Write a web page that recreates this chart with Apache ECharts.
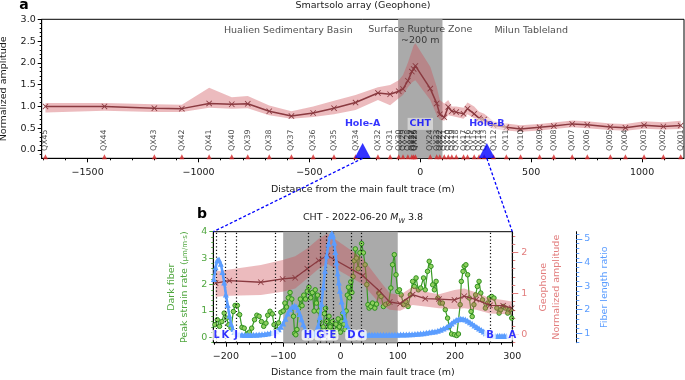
<!DOCTYPE html>
<html><head><meta charset="utf-8">
<script src="https://cdn.jsdelivr.net/npm/echarts@6/dist/echarts.min.js"></script>
<style>html,body{margin:0;padding:0;background:#fff}#c{width:685px;height:380px}</style>
</head><body><div id="c"></div>
<script>
// ---------------- Panel a : Smartsolo array (Geophone) ----------------
const stationNames = ['QX45','QX44','QX43','QX42','QX41','QX40','QX39','QX38','QX37','QX36','QX35','QX34','QX32','QX31',
  'QX30','QX29','QX28','QX27','QX26','QX25','QX24','QX23','QX22','QX21','QX20','QX19','QX18','QX17','QX16','QX15','QX14','QX13',
  'QX12','QX11','QX10','QX09','QX08','QX07','QX06','QX05','QX04','QX03','QX02','QX01'];
const stationDist = [-1690,-1424,-1199,-1075,-952,-850,-778,-681,-581,-483,-389,-292,-191,-136,
  -97,-78,-56,-38,-30,-22,45,74,88,108,126,142,162,195,213,243,265,288,
  330,388,452,538,602,685,753,857,925,1009,1096,1174];
const ampMean = [1.00,1.00,0.96,0.95,1.07,1.05,1.06,0.89,0.78,0.85,0.96,1.09,1.31,1.28,
  1.35,1.40,1.59,1.80,1.86,1.93,1.41,1.07,0.82,0.75,0.99,0.89,0.87,0.83,0.95,0.83,0.73,0.70,
  0.57,0.52,0.48,0.52,0.55,0.60,0.58,0.53,0.51,0.57,0.54,0.56];
const ampLow = [0.86,0.90,0.87,0.87,0.97,0.95,0.96,0.80,0.72,0.76,0.82,0.92,1.15,1.03,
  1.19,1.26,1.44,1.55,1.58,1.60,1.15,0.80,0.70,0.67,0.80,0.78,0.76,0.72,0.82,0.73,0.62,0.60,
  0.49,0.45,0.42,0.45,0.48,0.52,0.50,0.46,0.44,0.49,0.47,0.48];
const ampHigh = [1.08,1.08,1.05,1.04,1.43,1.21,1.24,1.02,0.89,1.00,1.13,1.26,1.44,1.49,
  1.60,1.72,2.00,2.28,2.40,2.45,1.91,1.45,1.15,1.07,1.15,1.00,1.00,0.97,1.09,1.00,0.88,0.83,
  0.66,0.61,0.57,0.60,0.63,0.68,0.66,0.61,0.60,0.66,0.64,0.67];
const holeNames = ['Hole-A','CHT','Hole-B'];
const holeDist = [-260, 0, 300];
const zoneNames = ['Hualien Sedimentary Basin','Surface Rupture Zone\n~200 m','Milun Tableland'];
const zoneDist = [-595, 0, 500];
const zoneAmp = [2.75, 2.63, 2.75];
const aXTicks = [-1500,-1000,-500,0,500,1000];
const aYTicks = [0,0.5,1,1.5,2,2.5,3];

// ---------------- Panel b : CHT - 2022-06-20 Mw 3.8 ----------------
const geoDist = [-218,-194,-139,-101,-79,-58,-38,-23,39,68,86,104,126,148,172,199,216,237,261,284,299];
const geoMean = [1.25,1.31,1.27,1.35,1.38,1.60,1.80,1.92,1.43,1.06,0.79,0.75,0.97,0.87,0.86,0.84,0.93,0.85,0.71,0.70,0.64];
const geoLow  = [0.92,0.94,0.96,1.04,1.12,1.36,1.60,1.72,1.22,0.76,0.60,0.58,0.72,0.68,0.64,0.62,0.64,0.60,0.51,0.50,0.48];
const geoHigh = [1.53,1.58,1.69,1.81,1.90,2.09,2.33,2.45,1.85,1.32,1.00,0.96,1.16,1.04,0.98,1.08,1.12,1.02,0.88,0.84,0.80];

const fiberDist = [-219,-215,-211,-207,-203,-199,-195,-191,-187,-184,-180,-176,-172,-168,-163,-159,-155,-150,-146,-142,-138,-134,-130,-127,-123,-119,-116,-112,-108,-104,
  -100,-97,-94,-91,-88,-85,-82,-80,-78,-76,-73,-70,-67,-64,-61,-58,-55,-52,-49,-46,
  -44,-42,-40,-38,-36,-34,-32,-30,-28,-26,-24,-22,-20,-18,-16,-14,-12,-10,-8,-6,-4,-2,0,2,4,6,8,10,12,14,16,18,20,22,24,26,28,31,34,37,40,43,46,48,
  50,53,56,60,63,67,71,75,79,84,88,91,94,97,100,103,106,110,114,118,122,126,129,132,136,140,145,148,152,155,158,161,164,167,170,174,178,183,187,190,194,199,203,206,
  209,211,214,216,219,222,225,228,230,233,236,239,242,245,248,253,257,260,264,268,273,277,280,284,288,292,296,299];
const fiberRate = [0.48,0.67,0.42,0.60,0.92,0.73,0.48,0.35,0.98,1.21,1.21,0.86,0.38,0.35,0.13,0.20,0.35,0.67,0.84,0.80,0.60,0.42,0.54,0.84,0.99,0.89,0.48,0.30,0.55,0.95,
  1.00,1.30,1.15,1.50,1.70,1.45,0.80,0.15,0.10,0.30,1.10,1.45,1.20,1.60,1.45,1.75,1.90,1.50,1.70,1.00,
  1.80,1.30,1.60,1.00,0.60,0.20,0.05,0.40,0.90,1.10,0.60,0.30,0.80,0.40,0.15,0.60,0.20,0.05,0.50,0.30,0.70,0.40,0.20,0.60,0.90,0.50,0.30,1.00,1.60,1.90,1.50,2.10,1.70,2.30,2.90,3.35,3.00,2.60,3.20,3.55,3.20,2.75,2.00,1.24,
  1.11,1.17,1.30,1.11,1.26,1.68,1.55,1.17,1.25,1.30,1.87,2.75,3.13,2.37,1.74,1.80,1.61,1.24,1.36,1.17,1.61,2.12,1.93,2.25,1.80,1.87,2.25,1.80,2.50,2.88,2.69,1.99,1.80,2.12,1.49,1.30,1.30,1.05,0.73,0.41,0.13,0.10,0.07,0.13,
  1.24,2.12,2.50,2.69,2.75,2.37,1.49,0.98,0.79,1.24,1.61,1.93,2.12,1.68,1.42,1.11,1.30,1.49,1.55,1.49,1.11,0.92,1.05,1.17,1.11,0.92,1.05,0.73];

const ratioDist = [-221,-218,-215,-212,-209,-206,-203,-200,-197,-194,-191,-188,-185,-181,-177,-172,-167,-162,-157,-152,-147,-142,-137,-132,-127,-122,-117,-112,-108,-104,
  -100,-96,-92,-88,-84,-80,-77,-74,-71,-68,-65,-62,-59,-56,-52,-48,-45,-42,-39,-36,-33,-30,-27,-24,-21,-18,-15,-13,-11,-9,-7,-5,-3,-1,2,5,8,11,14,17,21,25,30,
  35,40,45,50,55,60,65,70,75,80,85,90,95,100,105,110,115,120,125,130,135,140,145,150,155,160,165,170,175,180,185,190,194,198,202,206,210,214,218,222,226,230,234,238,242,246,250,254,258,262,266,270,274,278,282,286,290];
const ratioVal = [3.30,3.80,4.10,4.13,3.95,3.60,3.15,2.65,2.20,1.75,1.40,1.18,1.05,0.98,0.95,0.94,0.93,0.93,0.93,0.94,0.94,0.95,0.96,0.97,0.99,1.01,1.04,1.09,1.17,1.28,
  1.42,1.62,1.84,2.02,2.13,2.17,2.13,2.00,1.82,1.60,1.38,1.18,1.02,0.95,0.94,0.96,1.00,1.10,1.32,1.70,2.25,2.95,3.65,4.30,4.80,5.12,5.24,5.15,4.85,4.45,4.00,3.55,3.15,2.80,2.35,1.95,1.60,1.35,1.18,1.08,1.01,0.97,0.95,
  0.95,0.95,0.94,0.94,0.94,0.94,0.94,0.94,0.94,0.94,0.94,0.94,0.94,0.94,0.95,0.95,0.95,0.96,0.96,0.97,0.98,0.99,1.00,1.02,1.04,1.06,1.08,1.11,1.15,1.20,1.26,1.34,1.42,1.50,1.56,1.60,1.62,1.61,1.58,1.53,1.47,1.40,1.33,1.27,1.20,1.14,1.07,1.00,0.95,0.92,0.90,0.89,0.88,0.89,0.88,0.89,0.88];

const markerNames = ['L','K','J','I','H','G','F','E','D','C','B','A'];
const markerDist = [-216,-201,-182,-114,-57,-35,-25,-13,19,36,261,300];
const bXTicks = [-200,-100,0,100,200,300];
const bStrainTicks = [0,1,2,3,4];
const bGeoTicks = [0,1,2];
const bRatioTicks = [1,2,3,4,5];

// ---------------- helpers ----------------
const FONT = 'DejaVu Sans';
const TXT = '#1a1a1a';
const GREEN = '#4fa63e', RED = '#e27d7d', BLUE = '#5b9dff', MAROON = '#8a3a40';
const XSYM = 'path://M1,0L5,4L9,0L10,1L6,5L10,9L9,10L5,6L1,10L0,9L4,5L0,1Z';
function range(a, b, s) { const r = []; for (let v = a; v <= b + 1e-9; v += s) r.push(Math.round(v * 1000) / 1000); return r; }
const signed = d => v => (v < 0 ? '\u2212' : '') + Math.abs(v).toFixed(d);

function xPair(grid, min, max, major, minor, name, gap) {
  return [
    { type: 'value', gridIndex: grid, min, max, position: 'bottom',
      axisLine: { show: true, onZero: false, lineStyle: { color: '#000', width: 1 } },
      axisTick: { show: true, customValues: major, length: 4, lineStyle: { color: '#000', width: 1 } },
      axisLabel: { show: true, customValues: major, formatter: signed(0), fontSize: 9.5, fontFamily: FONT, color: TXT, margin: 9 },
      splitLine: { show: false },
      name, nameLocation: 'middle', nameGap: gap, nameTextStyle: { fontSize: 9.5, fontFamily: FONT, color: TXT } },
    { type: 'value', gridIndex: grid, min, max, position: 'bottom',
      axisLine: { show: false, onZero: false },
      axisTick: { show: true, customValues: minor, length: 2, lineStyle: { color: '#000', width: 1 } },
      axisLabel: { show: false }, splitLine: { show: false } }
  ];
}
function yPair(grid, pos, offset, min, max, major, minor, dec, color, majLen, minLen, margin, name, gap, rich) {
  return [
    { type: 'value', gridIndex: grid, position: pos, offset, min, max,
      axisLine: { show: true, onZero: false, lineStyle: { color: '#000', width: 1 } },
      axisTick: { show: true, customValues: major, length: majLen, lineStyle: { color: color, width: 1 } },
      axisLabel: { show: true, customValues: major, formatter: signed(dec), fontSize: 9.5, fontFamily: FONT, color: color === '#000' ? TXT : color, margin },
      splitLine: { show: false },
      name, nameLocation: 'middle', nameGap: gap,
      nameTextStyle: { fontSize: 9.5, fontFamily: FONT, color: color === '#000' ? TXT : color, lineHeight: 13, rich: rich || {} } },
    { type: 'value', gridIndex: grid, position: pos, offset, min, max,
      axisLine: { show: false, onZero: false },
      axisTick: { show: true, customValues: minor, length: minLen, lineStyle: { color: color, width: 1 } },
      axisLabel: { show: false }, splitLine: { show: false } }
  ];
}
function band(xs, lo, hi, xi, yi, color, z) {
  return { type: 'custom', xAxisIndex: xi, yAxisIndex: yi, z, silent: true, clip: true,
    data: xs.map((x, i) => [x, lo[i], hi[i]]), encode: { x: 0, y: [1, 2] },
    renderItem: function (params, api) {
      if (params.dataIndex !== 0) return null;
      const pts = [];
      for (let i = 0; i < xs.length; i++) pts.push(api.coord([xs[i], hi[i]]));
      for (let i = xs.length - 1; i >= 0; i--) pts.push(api.coord([xs[i], lo[i]]));
      return { type: 'polygon', shape: { points: pts }, style: { fill: color } };
    } };
}

const xAxes = [].concat(
  xPair(0, -1707, 1189, aXTicks, range(-1700, 1100, 100), 'Distance from the main fault trace (m)', 26),
  xPair(1, -222, 300, bXTicks, range(-220, 300, 20), 'Distance from the main fault trace (m)', 25)
);
const yAxes = [].concat(
  yPair(0, 'left', 0, -0.19, 3, aYTicks, range(-0.1, 3, 0.1), 1, '#000', 4, 2, 6, 'Normalized amplitude', 28),
  yPair(1, 'left', 0, -0.2, 4, bStrainTicks, range(-0.2, 4, 0.2), 0, GREEN, 4, 2, 6, 'Dark fiber\nPeak strain rate ({f|μm/m·s})', 22, { f: { fontSize: 7, color: GREEN, fontFamily: FONT } }),
  yPair(1, 'right', 0, -0.2, 2.5, bGeoTicks, range(-0.2, 2.4, 0.2), 0, RED, 6, 3, 9, 'Geophone\nNormalized amplitude', 25),
  yPair(1, 'right', 64, 0.6, 5.31, bRatioTicks, range(0.6, 5.2, 0.2), 0, BLUE, 6, 3, 8, 'Fiber length ratio', 22)
);

const lbl = (extra) => Object.assign({ show: true, fontFamily: FONT, fontSize: 9.5, color: TXT, position: 'inside' }, extra);

// letter labels: "F" is drawn first so that its neighbours' boxes overlap it
const markerOrder = markerNames.map((n, i) => i).sort((a, b) => (markerNames[a] === 'F' ? -1 : 0) - (markerNames[b] === 'F' ? -1 : 0));

const series = [
  // ---- panel a ----
  { type: 'line', xAxisIndex: 0, yAxisIndex: 0, z: 1, data: [[-100, -1]], showSymbol: false, lineStyle: { width: 0 }, silent: true,
    markArea: { silent: true, itemStyle: { color: '#aaaaaa' }, data: [[{ xAxis: -100 }, { xAxis: 100 }]] } },
  band(stationDist, ampLow, ampHigh, 0, 0, 'rgba(205,75,85,0.38)', 2),
  { type: 'line', xAxisIndex: 0, yAxisIndex: 0, z: 3, data: stationDist.map((x, i) => [x, ampMean[i]]),
    symbol: XSYM, symbolSize: 6, itemStyle: { color: MAROON }, lineStyle: { color: MAROON, width: 1.5 } },
  { type: 'scatter', xAxisIndex: 0, yAxisIndex: 0, z: 4, data: stationDist.map(x => [x, -0.155]),
    symbol: 'triangle', symbolSize: 5, itemStyle: { color: '#d62728' } },
  { type: 'scatter', xAxisIndex: 0, yAxisIndex: 0, z: 5, symbolSize: 0,
    data: stationDist.map((x, i) => ({ name: stationNames[i], value: [x, -0.02] })),
    label: lbl({ formatter: '{b}', rotate: 90, align: 'left', verticalAlign: 'middle', fontSize: 7.8 }) },
  { type: 'scatter', xAxisIndex: 0, yAxisIndex: 0, z: 6, symbol: 'triangle', symbolSize: [16, 15], itemStyle: { color: '#0000ff' },
    data: holeDist.filter((d, i) => holeNames[i] !== 'CHT').map(x => [x, -0.01]) },
  { type: 'scatter', xAxisIndex: 0, yAxisIndex: 0, z: 7, symbolSize: 0,
    data: holeDist.map((x, i) => ({ name: holeNames[i], value: [x, 0.6] })),
    label: lbl({ formatter: '{b}', color: '#0000ff', fontWeight: 'bold', backgroundColor: 'rgba(255,255,255,0.6)', padding: [1, 2] }) },
  { type: 'scatter', xAxisIndex: 0, yAxisIndex: 0, z: 7, symbolSize: 0,
    data: zoneDist.map((x, i) => ({ name: zoneNames[i], value: [x, zoneAmp[i]] })),
    label: lbl({ formatter: '{b}', align: 'center', verticalAlign: 'middle', lineHeight: 11 }) },

  // ---- panel b ----
  { type: 'line', xAxisIndex: 2, yAxisIndex: 2, z: 1, data: [[-100, -1]], showSymbol: false, lineStyle: { width: 0 }, silent: true,
    markArea: { silent: true, itemStyle: { color: '#aaaaaa' }, data: [[{ xAxis: -100 }, { xAxis: 100 }]] } },
  { type: 'line', xAxisIndex: 2, yAxisIndex: 2, z: 2, data: fiberDist.map((x, i) => [x, fiberRate[i]]),
    symbol: 'circle', symbolSize: 4.5, itemStyle: { color: '#8fd15f', borderColor: '#2f8f1f', borderWidth: 1 },
    lineStyle: { color: '#3a9a26', width: 1.2 } },
  band(geoDist, geoLow, geoHigh, 2, 4, 'rgba(205,75,85,0.38)', 3),
  { type: 'line', xAxisIndex: 2, yAxisIndex: 4, z: 4, data: geoDist.map((x, i) => [x, geoMean[i]]),
    symbol: XSYM, symbolSize: 6, itemStyle: { color: MAROON }, lineStyle: { color: MAROON, width: 1.3 } },
  { type: 'line', xAxisIndex: 2, yAxisIndex: 6, z: 5, data: ratioDist.map((x, i) => [x, ratioVal[i]]),
    symbol: 'triangle', symbolSize: 6, itemStyle: { color: BLUE }, lineStyle: { color: BLUE, width: 2.6 } },
  { type: 'line', xAxisIndex: 2, yAxisIndex: 2, z: 6, data: [[-100, -1]], showSymbol: false, lineStyle: { width: 0 }, silent: true,
    markLine: { silent: true, symbol: ['none', 'none'], label: { show: false },
      lineStyle: { type: [1.2, 2.2], color: '#111', width: 1.2 }, data: markerDist.map(x => ({ xAxis: x })) } },
  { type: 'scatter', xAxisIndex: 2, yAxisIndex: 2, z: 7, symbolSize: 0,
    data: markerOrder.map(i => ({ name: markerNames[i], value: [markerDist[i], 0.09] })),
    label: lbl({ formatter: '{b}', color: '#0000ff', fontWeight: 'bold', fontSize: 10, backgroundColor: '#ffffff', borderRadius: 3, padding: [1, 2, 0, 2] }) }
];

const option = {
  animation: false,
  textStyle: { fontFamily: FONT },
  grid: [
    { left: 41.7, top: 19.3, width: 642.3, height: 139, show: true, borderColor: '#000', borderWidth: 1, backgroundColor: 'transparent', outerBoundsMode: 'none', containLabel: false },
    { left: 213.3, top: 231.7, width: 299, height: 111, show: true, borderColor: '#000', borderWidth: 1, backgroundColor: 'transparent', outerBoundsMode: 'none', containLabel: false }
  ],
  xAxis: xAxes,
  yAxis: yAxes,
  series
};

const chart = echarts.init(document.getElementById('c'), null, { renderer: 'canvas' });
chart.setOption(option);

const px = (xi, x) => chart.convertToPixel({ xAxisIndex: xi }, x);
const py = (yi, y) => chart.convertToPixel({ yAxisIndex: yi }, y);
const aMinY = py(0, -0.19);
const link = (x1, y1, x2, y2) => ({ type: 'line', z: 100, silent: true,
  shape: { x1, y1, x2, y2 }, style: { stroke: '#0000ff', lineWidth: 1.3, lineDash: [3, 2] } });
chart.setOption({ graphic: [
  { type: 'text', x: 363, y: 6, style: { text: 'Smartsolo array (Geophone)', fill: TXT, font: '9.5px "DejaVu Sans"', align: 'center', verticalAlign: 'middle', textAlign: 'center', textVerticalAlign: 'middle' } },
  { type: 'text', x: 24, y: 5, style: { text: 'a', fill: '#000', font: 'bold 14px "DejaVu Sans"', align: 'center', verticalAlign: 'middle', textAlign: 'center', textVerticalAlign: 'middle' } },
  { type: 'text', x: 202, y: 214, style: { text: 'b', fill: '#000', font: 'bold 14px "DejaVu Sans"', align: 'center', verticalAlign: 'middle', textAlign: 'center', textVerticalAlign: 'middle' } },
  { type: 'text', x: 363, y: 218, style: { text: '{t|CHT - 2022-06-20 }{m|M}{s|W}{t| 3.8}', align: 'center', verticalAlign: 'middle', textAlign: 'center', textVerticalAlign: 'middle',
      rich: { t: { fontSize: 9.5, fontFamily: FONT, fill: TXT, color: TXT, lineHeight: 13 },
              m: { fontSize: 9.5, fontFamily: FONT, fontStyle: 'italic', fill: TXT, color: TXT, lineHeight: 13 },
              s: { fontSize: 6.5, fontFamily: FONT, fontStyle: 'italic', fill: TXT, color: TXT, verticalAlign: 'bottom', lineHeight: 13 } } } },
  link(px(0, holeDist[0]), aMinY, px(2, -222), py(2, 4)),
  link(px(0, holeDist[2]), aMinY, px(2, 300), py(2, 4))
] });
</script></body></html>
